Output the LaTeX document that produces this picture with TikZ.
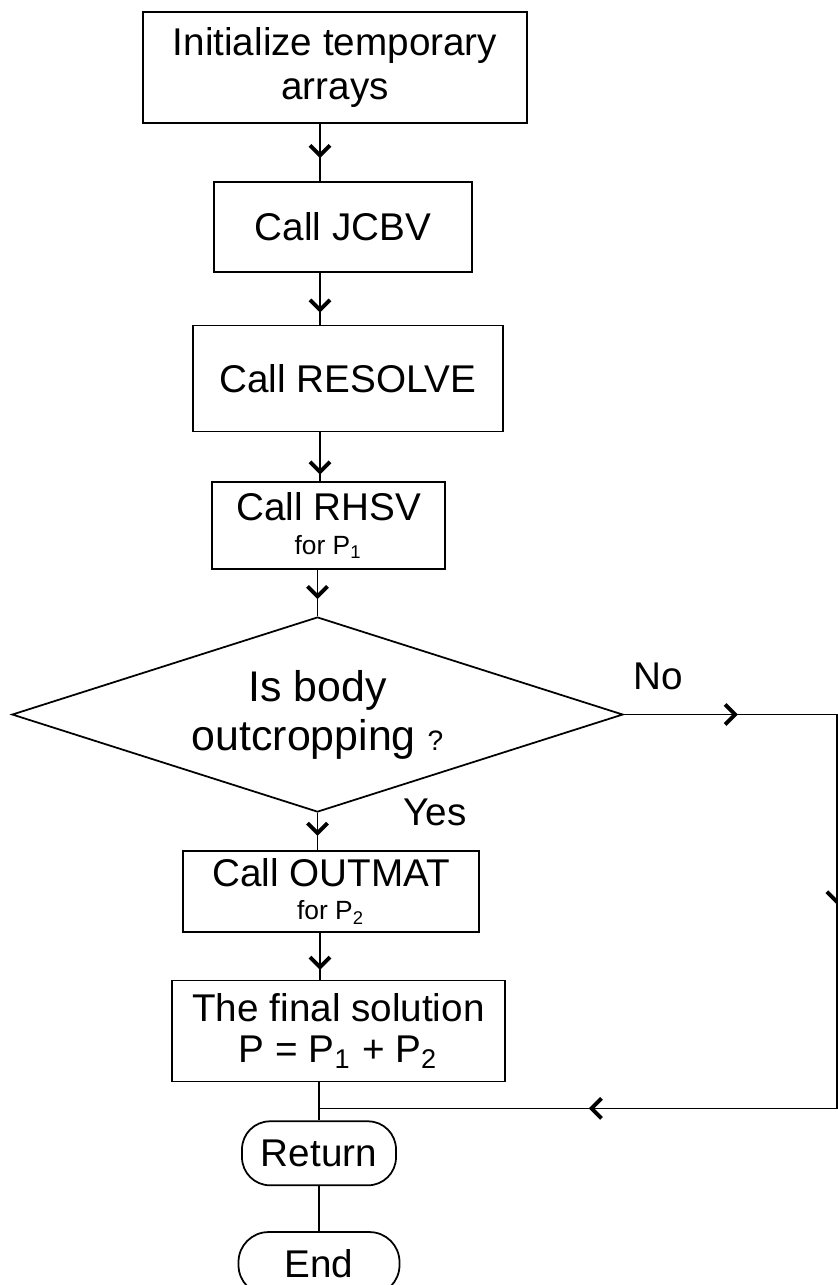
\documentclass[tikz,border=0pt]{standalone}
\usepackage{fontspec}
\setmainfont{Liberation Sans}
\usetikzlibrary{arrows.meta, positioning, shapes.geometric, decorations.markings}

\begin{document}
\begin{tikzpicture}[
        every node/.style={font=\fontsize{11}{12.5}\selectfont},
        box/.style={rectangle, draw, line width=0.5pt, inner sep=2pt, align=center},
        decision/.style={diamond, draw, line width=0.5pt, aspect=3.13, inner sep=0pt, align=center, font=\fontsize{12.2}{13}\selectfont},
        terminal/.style={rectangle, rounded corners=0.28cm, draw, line width=0.5pt, align=center},
        lbl/.style={inner sep=0pt},
        chevron/.tip={Straight Barb[length=1mm, width=2mm, line width=1.1pt]},
        flow/.style={line width=0.5pt, decoration={markings, mark=at position #1 with {\arrow{chevron}}}, postaction=decorate},
        flow/.default=0.6
    ]
    \useasboundingbox (0,0) rectangle (8.38,-12.85);
    \coordinate (trunk) at (3.2,0);

    % Nodes
    \node[box, minimum width=3.84cm, minimum height=1.11cm] (init) at (3.35,-0.675) {Initialize temporary\\arrays};
    \node[box, below=0.57cm of init, xshift=0.08cm, minimum width=2.58cm, minimum height=0.9cm] (jcbv) {Call JCBV};
    \node[box, below=0.52cm of jcbv, xshift=0.05cm, minimum width=3.1cm, minimum height=1.06cm] (resolve) {Call RESOLVE};
    \node[box, below=0.49cm of resolve, xshift=-0.195cm, minimum width=2.33cm, minimum height=0.87cm] (rhsv) {Call RHSV\\[-3pt]{\fontsize{7.5}{8}\selectfont for P\textsubscript{1}}};
    \node[decision, below=0.46cm of rhsv, xshift=-0.11cm, minimum width=6.11cm, minimum height=1.95cm] (cond) {Is body\\[1pt]outcropping {\fontsize{8}{9}\selectfont ?}};
    \node[box, below=0.37cm of cond, xshift=0.135cm, minimum width=2.96cm, minimum height=0.81cm] (outmat) {Call OUTMAT\\[-3pt]{\fontsize{7.5}{8}\selectfont for P\textsubscript{2}}};
    \node[box, below=0.47cm of outmat, xshift=0.075cm, minimum width=3.33cm, minimum height=1.01cm] (fin) {The final solution\\[-1pt]P = P\textsubscript{1} + P\textsubscript{2}};
    \node[terminal, below=0.38cm of fin, xshift=-0.195cm, minimum width=1.54cm, minimum height=0.64cm] (ret) {Return};
    \node[terminal, below=0.45cm of ret, minimum width=1.61cm, minimum height=0.63cm, rounded corners=0.3cm] (endn) {End};

    % Labels
    \node[lbl, anchor=south west, above right=0.235cm and 0.09cm of cond.east] (no) {No};
    \node[lbl, anchor=base west] (yes) at ([xshift=0.855cm, yshift=-0.13cm]cond.south) {Yes};

    % Connectors
    \draw[flow=0.6] (init.south -| trunk) -- (jcbv.north -| trunk);
    \draw[flow=0.77] (jcbv.south -| trunk) -- (resolve.north -| trunk);
    \draw[flow=0.86] (resolve.south -| trunk) -- (rhsv.north -| trunk);
    \draw[flow=0.63] (rhsv.south -| cond.north) -- (cond.north);
    \draw[flow=0.62] (cond.south) -- (cond.south |- outmat.north);
    \draw[flow=0.79] (outmat.south -| trunk) -- (fin.north -| trunk);

    % No branch
    \coordinate[right=2.13cm of cond.east] (corner);
    \coordinate[below=0.26cm of fin.south] (merge);
    \draw[line width=0.5pt, decoration={markings,
            mark=at position 1.14cm with {\arrow{chevron}},
            mark=at position 4.03cm with {\arrow{chevron}},
            mark=at position 8.55cm with {\arrow{chevron}}}, postaction=decorate]
        (cond.east) -- (corner) -- (corner |- merge) -- (ret.north |- merge);

    \draw[line width=0.5pt] (fin.south -| ret.north) -- (ret.north);
    \draw[line width=0.5pt] (ret) -- (endn);
\end{tikzpicture}
\end{document}
